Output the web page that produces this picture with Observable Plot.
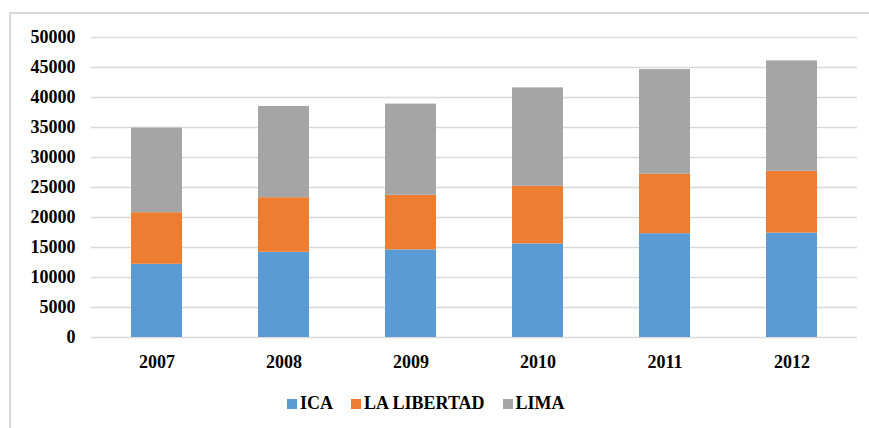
<!DOCTYPE html>
<html>
<head>
<meta charset="utf-8">
<script src="https://cdn.jsdelivr.net/npm/d3@7"></script>
<script src="https://cdn.jsdelivr.net/npm/@observablehq/plot@0.6"></script>
<style>
  html, body { margin: 0; padding: 0; background: #ffffff; }
  #wrap { position: relative; width: 869px; height: 428px; overflow: hidden; background: #ffffff; }
  #frame { position: absolute; left: 9px; top: 12px; width: 900px; height: 460px;
           border-left: 2px solid #d9d9d9; border-top: 2px solid #d9d9d9; box-sizing: border-box; }
  #chart { position: absolute; left: 0; top: 0; }
  #legend { position: absolute; left: 287px; top: 393px; display: flex; align-items: center; color: #000; }
  .item { display: flex; align-items: center; margin-right: 18px; }
  .sw { width: 10px; height: 10px; margin-right: 3px; }
</style>
</head>
<body>
<div id="wrap">
  <div id="frame"></div>
  <div id="chart"></div>
  <div id="legend" style="font-family:'Liberation Serif';font-weight:bold;font-size:18px"></div>
</div>
<script>
const years = ["2007", "2008", "2009", "2010", "2011", "2012"];
const series = ["ICA", "LA LIBERTAD", "LIMA"];
const colors = ["#5B9BD5", "#ED7D31", "#A5A5A5"];
const ica = [12200, 14200, 14600, 15600, 17300, 17400];
const laLibertad = [8600, 9100, 9100, 9600, 9900, 10300];
const lima = [14100, 15200, 15200, 16400, 17450, 18400];
const yTicks = [0, 5000, 10000, 15000, 20000, 25000, 30000, 35000, 40000, 45000, 50000];

const valuesBySeries = [ica, laLibertad, lima];
const data = [];
series.forEach((s, si) => {
  years.forEach((y, yi) => data.push({year: y, series: s, value: valuesBySeries[si][yi]}));
});

const FONT = "Liberation Serif";

const plot = Plot.plot({
  width: 869,
  height: 380,
  marginLeft: 91,
  marginRight: 12,
  marginTop: 37,
  marginBottom: 43,
  style: {background: "transparent", color: "#000"},
  x: {domain: years, paddingInner: 0.6, paddingOuter: 0.3, label: null},
  y: {domain: [0, 50000], label: null},
  color: {domain: series, range: colors},
  marks: [
    Plot.ruleY(yTicks, {stroke: "#d9d9d9", strokeWidth: 1.5}),
    Plot.barY(data, {x: "year", y: "value", fill: "series", order: series}),
    Plot.axisY(yTicks, {tickSize: 0, tickPadding: 16, tickFormat: d => String(d), fill: "#000",
      fontFamily: FONT, fontWeight: "bold", fontSize: 18, style: {letterSpacing: "1px"}}),
    Plot.axisX({tickSize: 0, tickPadding: 18, fill: "#000",
      fontFamily: FONT, fontWeight: "bold", fontSize: 18, style: {letterSpacing: "1px"}})
  ]
});
document.getElementById("chart").appendChild(plot);

const legend = document.getElementById("legend");
series.forEach((s, i) => {
  const item = document.createElement("div");
  item.className = "item";
  const sw = document.createElement("span");
  sw.className = "sw";
  sw.style.background = colors[i];
  const t = document.createElement("span");
  t.textContent = s;
  item.appendChild(sw);
  item.appendChild(t);
  legend.appendChild(item);
});
</script>
</body>
</html>
